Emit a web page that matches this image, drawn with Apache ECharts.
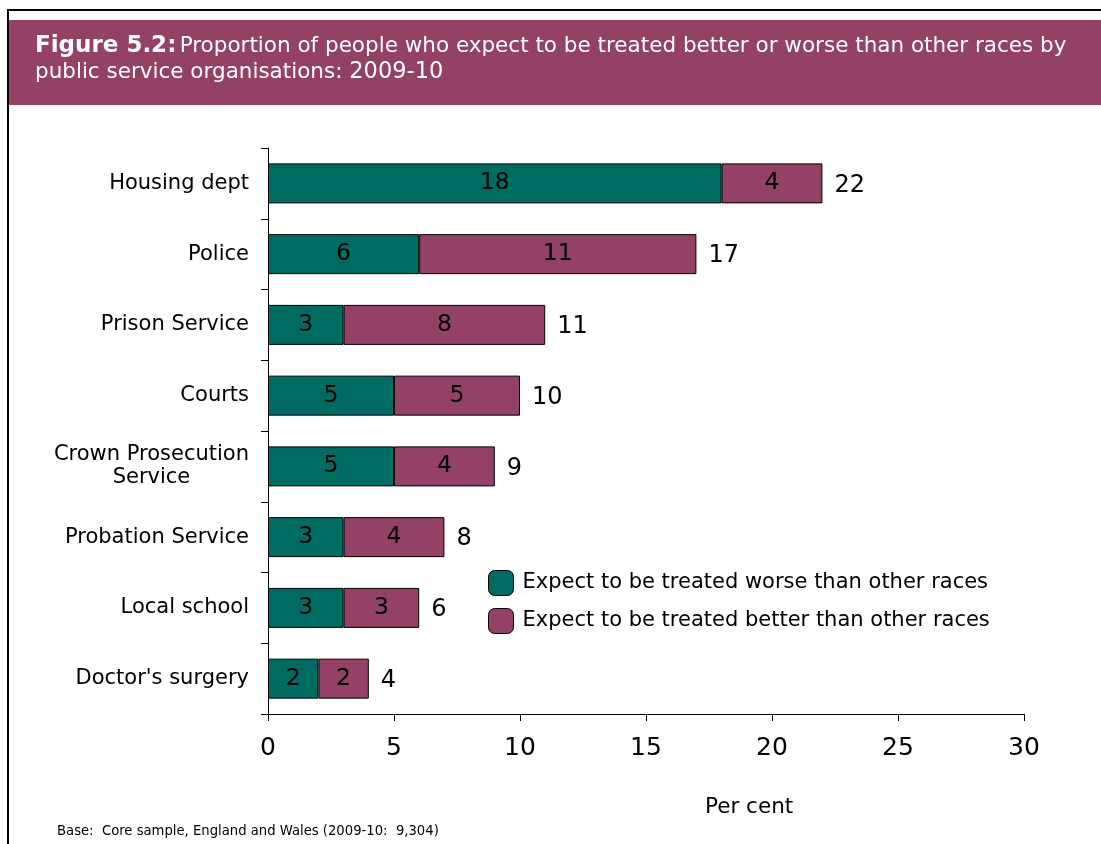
<!DOCTYPE html>
<html>
<head>
<meta charset="utf-8">
<title>Figure 5.2</title>
<script src="https://cdn.jsdelivr.net/npm/echarts@6/dist/echarts.min.js"></script>
<style>
  html, body { margin: 0; padding: 0; background: #ffffff; }
  #chart { width: 1101px; height: 844px; }
</style>
</head>
<body>
<div id="chart"></div>
<script>
// Organisations, top to bottom
const categories = [
  'Housing dept',
  'Police',
  'Prison Service',
  'Courts',
  'Crown Prosecution\nService',
  'Probation Service',
  'Local school',
  "Doctor's surgery"
];
// Per cent expecting to be treated worse than other races
const worse = [18, 6, 3, 5, 5, 3, 3, 2];
// Per cent expecting to be treated better than other races
const better = [4, 11, 8, 5, 4, 4, 3, 2];
// Published totals (rounded independently)
const totals = [22, 17, 11, 10, 9, 8, 6, 4];
const xTicks = [0, 5, 10, 15, 20, 25, 30];

const seriesNames = [
  'Expect to be treated worse than other races',
  'Expect to be treated better than other races'
];

const TEAL = '#006b60';
const PLUM = '#934164';
const SANS = '"DejaVu Sans", sans-serif';

const chart = echarts.init(document.getElementById('chart'), null, { renderer: 'canvas' });

const barLabel = {
  show: true,
  position: 'inside',
  color: '#000',
  fontFamily: SANS,
  fontSize: 23.5
};

const option = {
  backgroundColor: '#ffffff',
  animation: false,
  grid: { left: 268, top: 148, right: 77, bottom: 130, containLabel: false },
  xAxis: {
    type: 'value',
    min: xTicks[0],
    max: xTicks[xTicks.length - 1],
    interval: xTicks[1] - xTicks[0],
    axisLine: { show: true, lineStyle: { color: '#000', width: 1 } },
    axisTick: { show: true, length: 7, lineStyle: { color: '#000' } },
    splitLine: { show: false },
    axisLabel: { color: '#000', fontFamily: SANS, fontSize: 25, margin: 22 }
  },
  yAxis: {
    type: 'category',
    data: categories,
    inverse: true,
    axisLine: { show: true, lineStyle: { color: '#000', width: 1 } },
    axisTick: { show: true, length: 7, lineStyle: { color: '#000' } },
    axisLabel: {
      color: '#000',
      margin: 19,
      formatter: function (v) {
        return v.split('\n').map(function (s) { return '{c|' + s + '}'; }).join('\n');
      },
      rich: {
        c: { fontFamily: SANS, fontSize: 21, color: '#000', align: 'center', lineHeight: 23 }
      }
    }
  },
  legend: {
    data: seriesNames,
    orient: 'vertical',
    left: 488,
    top: 570,
    padding: 0,
    itemWidth: 25,
    itemHeight: 25,
    itemGap: 12,
    icon: 'roundRect',
    itemStyle: { borderColor: '#000', borderWidth: 1 },
    textStyle: { color: '#000', fontFamily: SANS, fontSize: 21, padding: [0, 0, 0, 4] }
  },
  series: [
    {
      name: seriesNames[0],
      type: 'bar',
      stack: 'total',
      data: worse,
      barWidth: 40,
      itemStyle: { color: TEAL, borderColor: '#000', borderWidth: 1 },
      label: barLabel
    },
    {
      name: seriesNames[1],
      type: 'bar',
      stack: 'total',
      data: better,
      barWidth: 40,
      itemStyle: { color: PLUM, borderColor: '#000', borderWidth: 1 },
      label: barLabel
    },
    {
      // total beside the end of each stacked bar
      type: 'custom',
      silent: true,
      encode: { x: 0, y: 1 },
      data: categories.map(function (c, i) { return [worse[i] + better[i], i, totals[i]]; }),
      renderItem: function (params, api) {
        const p = api.coord([api.value(0), api.value(1)]);
        return {
          type: 'text',
          x: p[0] + 12,
          y: p[1] + 2,
          style: {
            text: String(api.value(2)),
            fill: '#000',
            fontFamily: SANS,
            fontSize: 24,
            align: 'left',
            verticalAlign: 'middle'
          }
        };
      }
    }
  ],
  graphic: [
    // outer frame
    {
      type: 'polyline',
      shape: { points: [[8, 844], [8, 10], [1101, 10]] },
      style: { stroke: '#000', lineWidth: 2, fill: null }
    },
    // heading band
    {
      type: 'rect',
      shape: { x: 9, y: 20, width: 1092, height: 85 },
      style: { fill: PLUM }
    },
    {
      type: 'text',
      x: 35,
      y: 33,
      style: {
        text: '{b|Figure 5.2:} {r|Proportion of people who expect to be treated better or worse than other races by}\n{r|public service organisations: }{y|2009-10}',
        verticalAlign: 'top',
        rich: {
          b: { fontFamily: SANS, fontWeight: 'bold', fontSize: 23, fill: '#ffffff', lineHeight: 26 },
          r: { fontFamily: SANS, fontSize: 21.5, fill: '#ffffff', lineHeight: 26 },
          y: { fontFamily: SANS, fontSize: 22.5, fill: '#ffffff', lineHeight: 26 }
        }
      }
    },
    {
      type: 'text',
      x: 705,
      y: 807,
      style: {
        text: 'Per cent',
        fill: '#000',
        fontFamily: SANS,
        fontSize: 21.5,
        verticalAlign: 'middle'
      }
    },
    {
      type: 'text',
      x: 57,
      y: 832,
      style: {
        text: 'Base:  Core sample, England and Wales (2009-10:  9,304)',
        fill: '#000',
        fontFamily: SANS,
        fontSize: 13.2,
        verticalAlign: 'middle'
      }
    }
  ]
};

chart.setOption(option);
</script>
</body>
</html>
